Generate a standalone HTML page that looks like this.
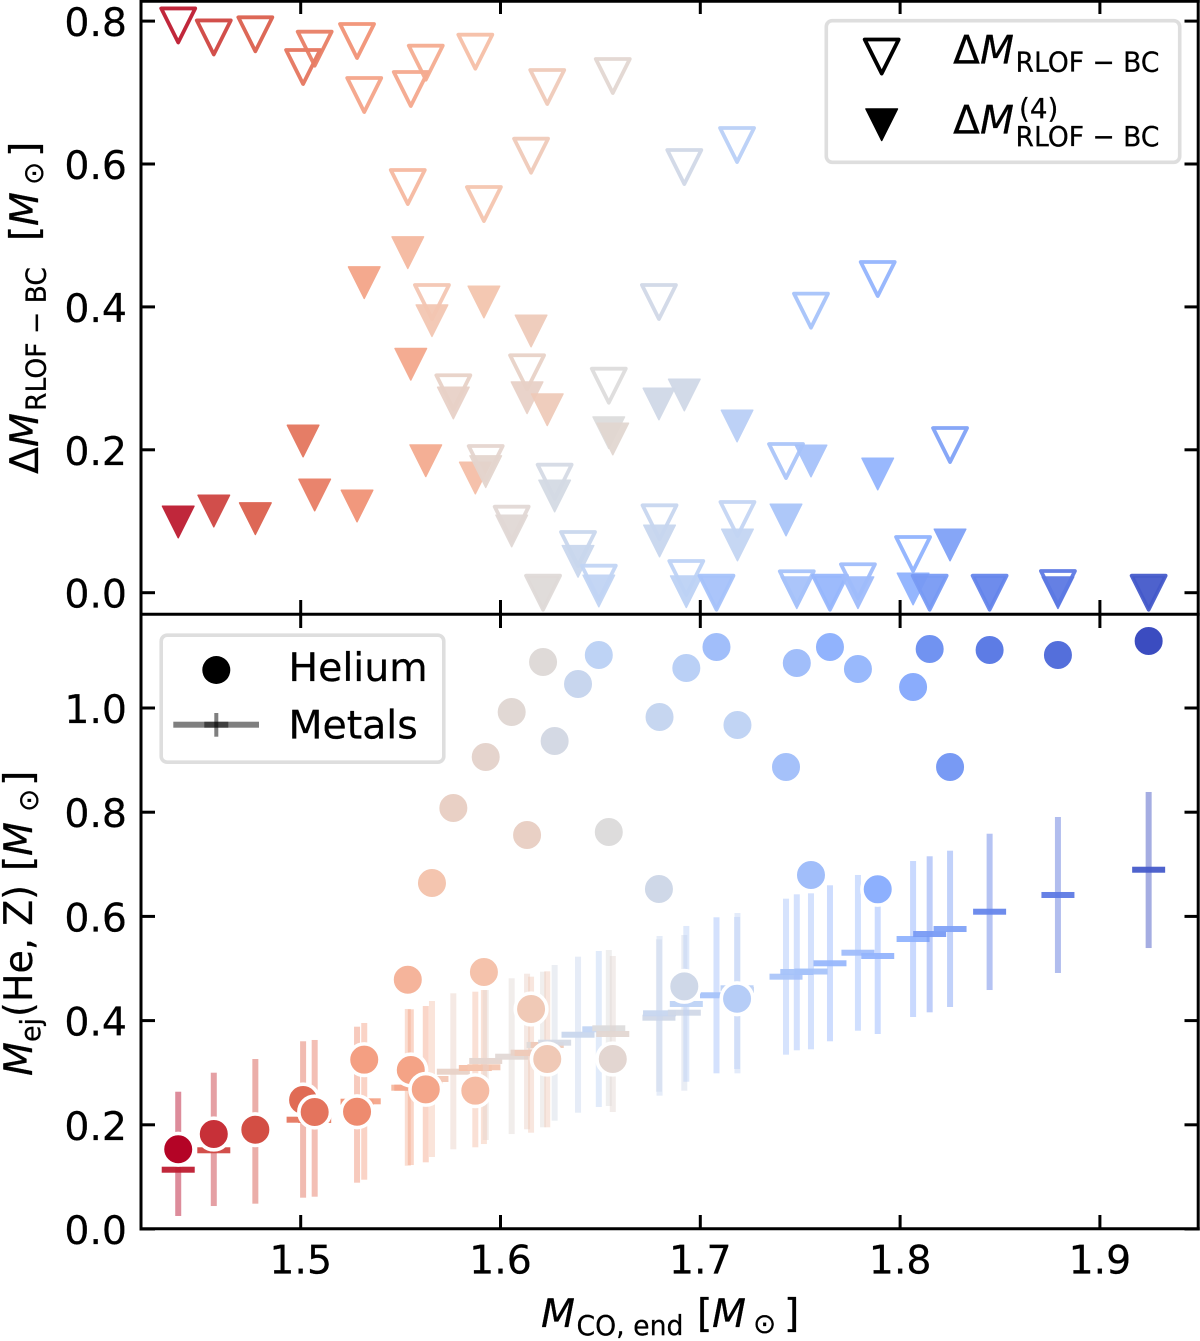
<!DOCTYPE html>
<html lang="en">
<head>
<meta charset="utf-8">
<title>Ejecta mass versus CO core mass</title>
<style>
  html, body { margin: 0; padding: 0; background: #fff; }
  svg { display: block; }
  text { font-family: "DejaVu Sans", "Liberation Sans", sans-serif; fill: #000; stroke: #000; stroke-width: 0.25px; }
  .main { font-size: 39.4px; }
  .sub { font-size: 27.8px; }
  .ital { font-style: italic; }
</style>
</head>
<body>
<svg id="chart" xmlns="http://www.w3.org/2000/svg" width="1200" height="1341" viewBox="0 0 1200 1341">
  <rect x="0" y="0" width="1200" height="1341" fill="#fff"/>
  <g id="marksTop"></g>
  <g id="marksBottom"></g>
  <g id="axes"></g>

  <g>
    <rect x="826.3" y="20.7" width="353.4" height="141.6" rx="6" fill="#fff" fill-opacity="0.85" stroke="#dedede" stroke-width="3.6"/>
    <polygon points="881.7,73.5 864.7,39.5 898.7,39.5" fill="none" stroke="#000" stroke-width="3.8" stroke-linejoin="round"/>
    <polygon points="881.7,140.5 865.9,108.9 897.5,108.9" fill="#000" stroke="#000" stroke-width="1.4" stroke-linejoin="round"/>
    <g>
      <text class="main" x="953" y="63.5">Δ</text>
      <text class="main ital" x="980" y="63.5">M</text>
      <text class="sub" x="1015.5" y="71.5" textLength="144" lengthAdjust="spacingAndGlyphs">RLOF − BC</text>
    </g>
    <g>
      <text class="main" x="953" y="133.5">Δ</text>
      <text class="main ital" x="980" y="133.5">M</text>
      <text class="sub" x="1019" y="118">(4)</text>
      <text class="sub" x="1015.5" y="146" textLength="144" lengthAdjust="spacingAndGlyphs">RLOF − BC</text>
    </g>
  </g>

  <g>
    <rect x="161.2" y="635.2" width="282.6" height="127" rx="6" fill="#fff" fill-opacity="0.85" stroke="#dedede" stroke-width="3.6"/>
    <circle cx="216.3" cy="670" r="14" fill="#000"/>
    <g>
      <rect x="173.3" y="721.7" width="85.7" height="6" fill="#000" opacity="0.5"/>
      <rect x="204.3" y="721.7" width="24" height="6" fill="#000" opacity="0.5"/>
      <rect x="214.3" y="713" width="4" height="23.7" fill="#000" opacity="0.5"/>
    </g>
    <text class="main" x="288.5" y="681">Helium</text>
    <text class="main" x="288.5" y="738.3">Metals</text>
  </g>

  <g transform="translate(38,473) rotate(-90)">
    <text class="main" x="-1" y="0">Δ</text>
    <text class="main ital" x="26" y="0">M</text>
    <text class="sub" x="62" y="7.5" textLength="144" lengthAdjust="spacingAndGlyphs">RLOF − BC</text>
    <text class="main" x="232" y="0">[</text>
    <text class="main ital" x="247" y="0">M</text>
    <text class="sub" x="288" y="5">⊙</text>
    <text class="main" x="316" y="0">]</text>
  </g>

  <g transform="translate(32,1075) rotate(-90)">
    <text class="main ital" x="-1" y="0">M</text>
    <text class="sub" x="33" y="8" textLength="24" lengthAdjust="spacingAndGlyphs">ej</text>
    <text class="main" x="58" y="0" textLength="132" lengthAdjust="spacingAndGlyphs">(He, Z)</text>
    <text class="main" x="204" y="0">[</text>
    <text class="main ital" x="219" y="0">M</text>
    <text class="sub" x="263" y="6">⊙</text>
    <text class="main" x="289" y="0">]</text>
  </g>

  <g>
    <text class="main ital" x="541" y="1327">M</text>
    <text class="sub" x="576.5" y="1335" textLength="107" lengthAdjust="spacingAndGlyphs">CO, end</text>
    <text class="main" x="697" y="1327">[</text>
    <text class="main ital" x="712" y="1327">M</text>
    <text class="sub" x="753" y="1333">⊙</text>
    <text class="main" x="784" y="1327">]</text>
  </g>
</svg>

<script>
// CO core mass of each model (x axis, shared by both panels)
const coMass = [1.4387,1.4565,1.4773,1.5012,1.5070,1.5282,1.5318,1.5536,1.5551,1.5626,1.5657,1.5764,1.5874,1.5917,1.5926,1.6056,1.6133,1.6153,1.6213,1.6234,1.6271,1.6388,1.6492,1.6542,1.6562,1.6793,1.6796,1.6920,1.6930,1.7081,1.7184,1.7186,1.7429,1.7483,1.7554,1.7649,1.7789,1.7888,1.8065,1.8148,1.8250,1.8448,1.8790,1.9244];
// Top panel: mass lost, open triangles
const deltaM = [0.7939,0.7771,0.7815,0.7358,0.7614,0.7722,0.6966,0.5678,0.7050,0.7418,0.4069,0.2805,0.7572,0.5440,0.1815,0.0966,0.3085,0.6116,0,0.7078,0.1554,0.0612,0.0140,0.2897,0.7232,0.4069,0.0985,0.5958,0.0206,0,0.6266,0.1032,0.1843,0.0062,0.3948,0,0.0160,0.4391,0.0542,0,0.2067,0,0.0066,0];
// Top panel: mass lost, filled triangles
const deltaM4 = [0.0990,0.1143,0.1036,0.2123,0.1367,0.1213,0.4339,0.4759,0.3197,0.1847,0.3807,0.2655,0.1605,0.4069,0.1694,0.0864,0.2729,0.3663,0,0.2561,0.1353,0.0439,0.0024,0.2239,0.2151,0.2641,0.0724,0.2767,0.0014,0,0.2333,0.0668,0.1018,0,0.1843,0,0,0.1661,0.0052,0,0.0668,0,0,0];
// Bottom panel: helium ejecta
const helium = [0.1530,0.1823,0.1906,0.2476,0.2246,0.2251,0.3250,0.4785,0.3052,0.2681,0.6641,0.8081,0.2655,0.4933,0.9060,0.9923,0.7562,0.4223,1.0883,0.3263,0.9367,1.0461,1.1017,0.7620,0.3263,0.6526,0.9827,0.4658,1.0768,1.1171,0.4420,0.9674,0.8868,1.0864,0.6795,1.1171,1.0749,0.6520,1.0403,1.1133,0.8868,1.1113,1.1017,1.1286];
// Bottom panel: metals ejecta, central values and error bar limits
const metals = [0.1138,0.1511,0.1881,0.2098,0.2092,0.2443,0.2451,0.2712,0.2712,0.2802,0.2879,0.3019,0.3090,0.3104,0.3225,0.3307,0.3384,0.3378,0.3532,0.3532,0.3576,0.3729,0.3833,0.3852,0.3743,0.4056,0.4140,0.4152,0.4319,0.4486,0.4620,0.4587,0.4843,0.4933,0.4942,0.5100,0.5303,0.5240,0.5566,0.5662,0.5758,0.6090,0.6411,0.6896];
const metalsLow = [0.0250,0.0441,0.0486,0.0601,0.0620,0.0889,0.0946,0.1215,0.1228,0.1280,0.1382,0.1530,0.1568,0.1631,0.1708,0.1823,0.1914,0.1848,0.1952,0.1952,0.2079,0.2232,0.2342,0.2361,0.2246,0.2635,0.2559,0.2655,0.2827,0.2988,0.3071,0.2988,0.3346,0.3430,0.3449,0.3603,0.3806,0.3743,0.4069,0.4159,0.4261,0.4587,0.4914,0.5393];
const metalsHigh = [0.2635,0.3000,0.3263,0.3603,0.3628,0.3883,0.3954,0.4223,0.4217,0.4280,0.4376,0.4524,0.4555,0.4587,0.4587,0.4812,0.4900,0.4843,0.4939,0.4946,0.5067,0.5227,0.5336,0.5355,0.5240,0.5560,0.5624,0.5643,0.5816,0.5983,0.5989,0.6065,0.6340,0.6424,0.6443,0.6597,0.6795,0.6718,0.7063,0.7154,0.7261,0.7587,0.7908,0.8388];
// Colour value of each model on the coolwarm scale (1 = red, 0 = blue)
const colorValue = [1,0.94,0.9,0.85,0.83,0.78,0.73,0.67,0.72,0.71,0.62,0.56,0.65,0.63,0.54,0.52,0.56,0.6,0.51,0.6,0.46,0.41,0.37,0.5,0.53,0.44,0.4,0.44,0.36,0.3,0.35,0.38,0.31,0.3,0.3,0.26,0.28,0.25,0.24,0.17,0.19,0.11,0.08,0];
// Ticks
const xTicks = [1.5,1.6,1.7,1.8,1.9];
const xTickLabels = ["1.5","1.6","1.7","1.8","1.9"];
const topYTicks = [0,0.2,0.4,0.6,0.8];
const topYTickLabels = ["0.0","0.2","0.4","0.6","0.8"];
const bottomYTicks = [0,0.2,0.4,0.6,0.8,1.0];
const bottomYTickLabels = ["0.0","0.2","0.4","0.6","0.8","1.0"];
const coolwarm = [[59,76,192],[98,130,234],[141,176,254],[192,212,245],[221,220,220],[245,196,173],[244,152,122],[219,96,76],[180,4,38]];

const SVGNS = 'http://www.w3.org/2000/svg';
function xScale(v) { return 300.7 + (v - 1.5) * 1998; }
function yTop(v) { return 592.7 - v * 714.5; }
function yBottom(v) { return 1229 - v * 521; }
function colorAt(t) {
  const p = Math.max(0, Math.min(1, t)) * (coolwarm.length - 1);
  const i = Math.min(Math.floor(p), coolwarm.length - 2);
  const f = p - i;
  const c = coolwarm[i].map((a, k) => Math.round(a + (coolwarm[i + 1][k] - a) * f));
  return 'rgb(' + c.join(',') + ')';
}
function softColor(t) { return colorAt(0.5 + (t - 0.5) * 0.94); }
function make(parent, tag, attrs) {
  const el = document.createElementNS(SVGNS, tag);
  for (const k in attrs) el.setAttribute(k, attrs[k]);
  parent.appendChild(el);
  return el;
}
function triPoints(cx, cy, h) {
  return cx + ',' + (cy + h) + ' ' + (cx - h) + ',' + (cy - h) + ' ' + (cx + h) + ',' + (cy - h);
}

const marksTop = document.getElementById('marksTop');
const marksBottom = document.getElementById('marksBottom');
const axes = document.getElementById('axes');

// Top panel triangles
coMass.forEach((m, i) => {
  const col = softColor(colorValue[i]);
  const open = make(marksTop, 'polygon', { points: triPoints(xScale(m), yTop(deltaM[i]), 17), fill: 'none', stroke: col, 'stroke-width': 3.8, 'stroke-linejoin': 'round', opacity: 0.94 });
  
  
  const filled = make(marksTop, 'polygon', { points: triPoints(xScale(m), yTop(deltaM4[i]), 15.8), fill: col, stroke: col, 'stroke-width': 1.4, 'stroke-linejoin': 'round', opacity: 0.94 });
  
  
});

// Bottom panel: metals error bars and central caps
coMass.forEach((m, i) => {
  const col = colorAt(colorValue[i]);
  const top = yBottom(metalsHigh[i]);
  const bar = make(marksBottom, 'rect', { x: xScale(m) - 3, y: top, width: 6, height: yBottom(metalsLow[i]) - top, fill: col, opacity: 0.46 });
  
  
  const cap = make(marksBottom, 'rect', { x: xScale(m) - 16.5, y: yBottom(metals[i]) - 3, width: 33, height: 6, fill: softColor(colorValue[i]), opacity: 0.94 });
  
  
});

// Bottom panel: helium circles
coMass.forEach((m, i) => {
  const dot = make(marksBottom, 'circle', { cx: xScale(m), cy: yBottom(helium[i]), r: 15.8, fill: colorAt(colorValue[i]), stroke: '#fff', 'stroke-width': 3.6 });
  
  
});

// Spines
[[141, 1, 141, 1229], [1198.2, 1, 1198.2, 1229], [141, 1.2, 1198.2, 1.2], [141, 614.3, 1198.2, 614.3], [141, 1228.7, 1198.2, 1228.7]].forEach(s => {
  const line = make(axes, 'line', { x1: s[0], y1: s[1], x2: s[2], y2: s[3], stroke: '#000', 'stroke-width': 3, 'stroke-linecap': 'square' });
  
  
});

// X ticks on both panels
xTicks.forEach((v, i) => {
  const x = xScale(v);
  [[1, 14], [600, 614], [614, 628], [1215, 1229]].forEach(r => {
    const t = make(axes, 'line', { x1: x, y1: r[0], x2: x, y2: r[1], stroke: '#000', 'stroke-width': 3 });
    
    
  });
  const label = make(axes, 'text', { x: x, y: 1273.5, 'text-anchor': 'middle', class: 'main' });
  label.textContent = xTickLabels[i];
  
  
});

// Y ticks
function yTicks(values, labels, scale) {
  values.forEach((v, i) => {
    const y = scale(v);
    [[141, 155], [1184.5, 1198.2]].forEach(r => {
      const t = make(axes, 'line', { x1: r[0], y1: y, x2: r[1], y2: y, stroke: '#000', 'stroke-width': 3 });
      
      
    });
    const label = make(axes, 'text', { x: 127, y: y + 15, 'text-anchor': 'end', class: 'main' });
    label.textContent = labels[i];
    
    
  });
}
yTicks(topYTicks, topYTickLabels, yTop);
yTicks(bottomYTicks, bottomYTickLabels, yBottom);
</script>
</body>
</html>
